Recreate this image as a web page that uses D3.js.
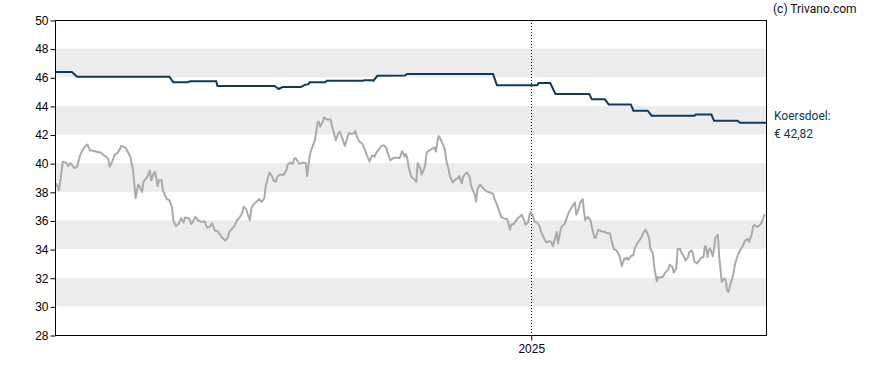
<!DOCTYPE html>
<html>
<head>
<meta charset="utf-8">
<script src="https://cdn.jsdelivr.net/npm/d3@7"></script>
<style>
  body { margin: 0; background: #fff; }
  .axis text { font-family: "Liberation Sans", Arial, sans-serif; font-size: 12px; fill: #000; }
  .note { font-family: Roboto, sans-serif; font-size: 12px; }
</style>
</head>
<body>
<div class="canvas"></div>
<script>
// start of the period, all points are [days since start, value]
const startDate = '2024-01-01';
const endDate = '2025-07-01';
const yearTicks = ['2025-01-01'];
const yTicks = [28, 30, 32, 34, 36, 38, 40, 42, 44, 46, 48, 50];
const bands = [[30, 32], [34, 36], [38, 40], [42, 44], [46, 48]];

// koers (grey line)
const koers = [
  [1, 38.6], [3, 38.1], [4, 38.7], [6, 40.1], [9, 40.0], [10, 39.8], [12, 40.0], [14, 39.75], [15, 39.65],
  [17, 39.75], [19, 40.45], [21, 40.9], [23, 41.15], [25, 41.3], [27, 40.9], [30, 40.85], [32, 40.8],
  [35, 40.75], [37, 40.6], [40, 40.4], [41, 40.3], [42, 39.75], [44, 40.1], [46, 40.6], [48, 40.7],
  [50, 41.0], [51, 41.2], [54, 41.1], [56, 40.8], [58, 40.45], [60, 39.5], [61, 38.6], [62, 37.55],
  [64, 38.5], [65, 38.4], [67, 38.0], [68, 38.7], [71, 39.05], [73, 39.5], [74, 38.8], [76, 39.3],
  [77, 39.4], [79, 38.4], [80, 38.8], [82, 38.8], [83, 38.1], [86, 37.5], [88, 37.4], [90, 36.95],
  [91, 36.0], [93, 35.6], [95, 35.75], [97, 36.15], [99, 35.85], [100, 36.2], [103, 36.15], [105, 35.75],
  [108, 36.25], [110, 36.0], [113, 35.9], [115, 35.95], [117, 35.5], [119, 35.55], [121, 35.8],
  [123, 35.3], [125, 35.25], [127, 35.0], [129, 34.75], [131, 34.6], [133, 34.8], [134, 35.2],
  [136, 35.4], [138, 35.6], [140, 36.0], [142, 36.2], [144, 36.5], [145, 36.95], [147, 36.8],
  [148, 36.5], [150, 36.0], [151, 36.85], [153, 37.15], [155, 37.3], [157, 37.5], [159, 37.3],
  [161, 37.55], [162, 38.35], [164, 39.05], [165, 39.35], [167, 39.1], [168, 38.8], [170, 38.7],
  [171, 39.05], [173, 39.2], [176, 39.2], [178, 39.5], [179, 39.9], [181, 40.05], [183, 39.95],
  [184, 40.3], [185, 40.35], [187, 40.1], [188, 39.95], [191, 40.05], [193, 40.0], [194, 39.1],
  [196, 40.55], [197, 40.9], [200, 41.6], [202, 42.85], [203, 42.9], [204, 42.55], [206, 42.9],
  [207, 43.2], [209, 43.05], [212, 43.05], [213, 42.65], [215, 41.95], [216, 41.6], [218, 42.1],
  [219, 42.2], [221, 41.75], [223, 41.2], [224, 41.5], [226, 42.1], [228, 42.05], [230, 42.1],
  [231, 42.25], [232, 41.95], [234, 41.5], [236, 41.4], [238, 41.05], [240, 40.55], [242, 40.1],
  [243, 40.35], [244, 40.55], [246, 40.45], [247, 40.7], [249, 40.95], [251, 41.2], [253, 41.25],
  [255, 41.05], [256, 40.7], [257, 40.45], [258, 40.2], [260, 40.35], [263, 40.4], [265, 40.35],
  [266, 40.55], [267, 40.85], [269, 40.45], [270, 40.65], [271, 40.35], [272, 39.75], [274, 39.05],
  [276, 38.9], [278, 38.7], [279, 40.0], [281, 39.65], [282, 39.2], [284, 39.6], [285, 40.0],
  [286, 40.75], [288, 40.9], [291, 41.05], [292, 41.1], [293, 40.8], [295, 41.9], [296, 41.8],
  [298, 41.4], [300, 40.95], [301, 40.2], [303, 39.5], [304, 39.05], [306, 38.65], [308, 38.85],
  [310, 38.95], [311, 39.1], [313, 38.6], [314, 39.05], [316, 39.3], [317, 39.35], [319, 39.05],
  [320, 38.5], [321, 38.2], [323, 37.8], [324, 37.3], [325, 38.2], [327, 38.5], [329, 38.3],
  [331, 38.1], [333, 38.0], [335, 37.95], [337, 37.85], [338, 37.55], [340, 37.1], [342, 36.6],
  [343, 36.3], [345, 36.15], [347, 36.1], [348, 36.1], [350, 35.35], [351, 35.7], [353, 35.75],
  [354, 35.9], [356, 36.15], [358, 36.3], [359, 36.4], [361, 36.0], [362, 35.7], [364, 35.85],
  [365, 36.4], [366, 36.6], [368, 36.25], [369, 35.9], [371, 35.85], [373, 35.55], [374, 35.2],
  [376, 34.8], [378, 34.45], [380, 34.55], [381, 34.55], [382, 34.45], [383, 34.2], [385, 34.85],
  [386, 35.2], [387, 34.4], [389, 35.35], [390, 35.6], [392, 35.75], [394, 36.25], [395, 36.5],
  [397, 36.85], [398, 37.0], [400, 37.25], [401, 36.4], [403, 36.85], [404, 37.25], [406, 37.5],
  [407, 36.6], [408, 36.0], [410, 36.25], [412, 36.0], [413, 35.55], [415, 34.8], [416, 34.8],
  [418, 35.35], [420, 35.25], [423, 35.2], [425, 35.1], [427, 35.1], [428, 34.65], [430, 34.0],
  [432, 33.9], [434, 33.6], [435, 33.25], [436, 32.8], [438, 33.35], [439, 33.3], [440, 33.4],
  [441, 33.25], [443, 33.5], [445, 33.6], [446, 34.05], [448, 34.4], [450, 34.65], [452, 35.0],
  [454, 35.35], [455, 35.25], [457, 34.8], [458, 34.05], [460, 33.7], [461, 32.75], [463, 31.75],
  [464, 32.05], [466, 32.0], [468, 32.1], [469, 32.3], [472, 32.6], [473, 32.9], [475, 32.75],
  [476, 32.35], [478, 32.65], [479, 34.0], [481, 34.0], [482, 33.75], [484, 33.45], [485, 33.2],
  [487, 33.45], [488, 33.8], [490, 33.9], [491, 33.6], [492, 33.1], [494, 33.0], [496, 33.25],
  [497, 33.4], [499, 33.45], [500, 34.2], [501, 34.15], [502, 33.45], [503, 33.9], [504, 34.05],
  [506, 33.5], [507, 34.0], [508, 34.8], [510, 35.0], [511, 33.45], [512, 32.55], [513, 31.7],
  [515, 31.95], [516, 31.85], [517, 31.15], [518, 31.0], [520, 31.65], [522, 32.3], [523, 32.9],
  [525, 33.5], [527, 33.9], [529, 34.2], [531, 34.6], [533, 34.7], [534, 34.5], [536, 35.0],
  [537, 35.55], [538, 35.7], [540, 35.55], [541, 35.6], [543, 35.75], [545, 36.15], [546, 36.45]
];

// koersdoel (dark blue line)
const koersdoel = [
  [0, 46.37], [13, 46.37], [17, 46.04], [88, 46.04], [91, 45.65], [102, 45.65], [104, 45.72],
  [124, 45.72], [125, 45.39], [169, 45.39], [172, 45.18], [175, 45.32], [189, 45.32], [191, 45.4],
  [192, 45.46], [195, 45.52], [196, 45.65], [208, 45.65], [209, 45.76], [237, 45.76], [238, 45.8],
  [244, 45.8], [245, 45.76], [248, 46.1], [269, 46.12], [271, 46.23], [337, 46.23], [340, 45.44],
  [371, 45.44], [372, 45.6], [381, 45.6], [385, 44.83], [411, 44.83], [413, 44.46], [423, 44.46],
  [426, 44.1], [443, 44.1], [445, 43.67], [456, 43.67], [459, 43.32], [492, 43.32], [493, 43.4],
  [505, 43.4], [507, 42.97], [525, 42.97], [527, 42.82], [547, 42.82]
];

const lastTarget = '€ 42,82';

const width = 888;
const height = 370;
const margin = { top: 20, right: 122, bottom: 35, left: 55 };
const innerW = width - margin.left - margin.right;
const innerH = height - margin.top - margin.bottom;

const parse = d3.utcParse('%Y-%m-%d');
const start = parse(startDate);
const toDate = d => d3.utcDay.offset(start, d);

const svg = d3.select('.canvas')
  .append('svg')
  .attr('width', width)
  .attr('height', height);

const graph = svg.append('g')
  .attr('transform', `translate(${margin.left}, ${margin.top})`);

const x = d3.scaleUtc()
  .domain([start, parse(endDate)])
  .range([0, innerW]);

const y = d3.scaleLinear()
  .domain([28, 50])
  .range([innerH, 0]);

// grey bands
graph.selectAll('rect.band')
  .data(bands)
  .enter()
  .append('rect')
  .attr('class', 'band')
  .attr('x', 0)
  .attr('width', innerW)
  .attr('y', d => y(d[1]))
  .attr('height', d => y(d[0]) - y(d[1]))
  .attr('fill', '#ececec');

// dotted year line
graph.selectAll('line.year')
  .data(yearTicks)
  .enter()
  .append('line')
  .attr('class', 'year')
  .attr('x1', d => Math.round(x(parse(d))) + 0.5)
  .attr('x2', d => Math.round(x(parse(d))) + 0.5)
  .attr('y1', 0)
  .attr('y2', innerH)
  .attr('stroke', '#000')
  .attr('stroke-dasharray', '1,2');

const line = d3.line()
  .x(d => x(toDate(d[0])))
  .y(d => y(d[1]));

graph.append('path')
  .datum(koers)
  .attr('d', line)
  .attr('fill', 'none')
  .attr('stroke', '#aaaaaa')
  .attr('stroke-width', 2)
  .attr('stroke-linejoin', 'round');

graph.append('path')
  .datum(koersdoel)
  .attr('d', line)
  .attr('fill', 'none')
  .attr('stroke', '#0d3a5e')
  .attr('stroke-width', 2);

// frame
graph.append('rect')
  .attr('x', 0.5)
  .attr('y', 0.5)
  .attr('width', innerW)
  .attr('height', innerH)
  .attr('fill', 'none')
  .attr('stroke', '#000');

const yAxis = d3.axisLeft(y)
  .tickValues(yTicks)
  .tickSize(5)
  .tickPadding(2)
  .tickFormat(d3.format('d'));

graph.append('g')
  .attr('class', 'axis')
  .attr('transform', 'translate(0.5, 0.5)')
  .call(yAxis)
  .call(g => g.select('.domain').remove());

const xAxis = d3.axisBottom(x)
  .tickValues(yearTicks.map(parse))
  .tickSize(5)
  .tickPadding(4)
  .tickFormat(d3.utcFormat('%Y'));

graph.append('g')
  .attr('class', 'axis')
  .attr('transform', `translate(0.5, ${innerH + 0.5})`)
  .call(xAxis)
  .call(g => g.select('.domain').remove());

// right side notes
svg.append('text')
  .attr('class', 'note')
  .attr('x', 773)
  .attr('y', 13)
  .attr('fill', '#111')
  .text('(c) Trivano.com');

const lastY = margin.top + y(koersdoel[koersdoel.length - 1][1]);
svg.append('text')
  .attr('class', 'note')
  .attr('x', 774)
  .attr('y', lastY - 3)
  .attr('fill', '#0f3556')
  .text('Koersdoel:');

svg.append('text')
  .attr('class', 'note')
  .attr('x', 774)
  .attr('y', lastY + 15)
  .attr('fill', '#0f3556')
  .text(lastTarget);
</script>
</body>
</html>
